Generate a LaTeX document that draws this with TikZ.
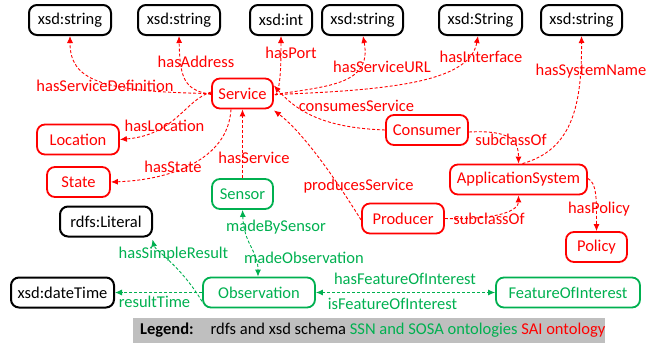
\documentclass[tikz,border=0pt]{standalone}
\usepackage{fontspec}
\setmainfont{Carlito}
\usetikzlibrary{arrows.meta}
\definecolor{saired}{RGB}{255,0,0}
\definecolor{ssngreen}{RGB}{0,176,80}
\definecolor{legendgray}{RGB}{191,191,191}
\tikzset{
  txt/.style={font=\fontsize{16.5}{19}\selectfont},
  box/.style={txt, rounded corners=8pt, minimum height=30pt, inner sep=0pt, line width=1.8pt},
  xsdbox/.style={box, draw=black, text=black, line width=2pt},
  saibox/.style={box, draw=saired, text=saired},
  ssnbox/.style={box, draw=ssngreen, text=ssngreen},
  rel/.style={dash pattern=on 3pt off 2pt, line width=0.9pt, -{Latex[length=7pt,width=6pt]}},
  birel/.style={rel, {Latex[length=7pt,width=6pt]}-{Latex[length=7pt,width=6pt]}},
  saiedge/.style={rel, draw=saired},
  ssnedge/.style={rel, draw=ssngreen},
  lbl/.style={txt, inner sep=0pt},
  saila/.style={lbl, text=saired},
  ssnla/.style={lbl, text=ssngreen},
}
\begin{document}
\begin{tikzpicture}[x=1pt, y=-1pt]
\useasboundingbox (0,0) rectangle (663,343);

% datatype boxes
\node[xsdbox, minimum width=82pt] (s1) at (70,20) {xsd:string};
\node[xsdbox, minimum width=82pt] (s2) at (179,20) {xsd:string};
\node[xsdbox, minimum width=62pt] (int) at (281,20) {xsd:int};
\node[xsdbox, minimum width=81pt] (s3) at (362.5,20) {xsd:string};
\node[xsdbox, minimum width=83pt] (sU) at (480.5,20) {xsd:String};
\node[xsdbox, minimum width=81pt] (s4) at (581.5,20) {xsd:string};
\node[xsdbox, minimum width=92pt] (lit) at (106,221.5) {rdfs:Literal};
\node[xsdbox, minimum width=103pt] (dt) at (62.5,292.5) {xsd:dateTime};

% SAI ontology classes
\node[saibox, minimum width=61pt] (srv) at (242.5,93.5) {Service};
\node[saibox, minimum width=82pt] (loc) at (78,139.5) {Location};
\node[saibox, minimum width=63pt] (st) at (78.5,182) {State};
\node[saibox, minimum width=82pt] (con) at (427,130) {Consumer};
\node[saibox, minimum width=137pt] (app) at (518.5,179.5) {ApplicationSystem};
\node[saibox, minimum width=82pt] (pro) at (403,218.5) {Producer};
\node[saibox, minimum width=61pt] (pol) at (596.5,247) {Policy};

% SSN / SOSA classes
\node[ssnbox, minimum width=61pt] (sen) at (242.5,194) {Sensor};
\node[ssnbox, minimum width=112pt] (obs) at (259,292.5) {Observation};
\node[ssnbox, minimum width=144pt] (foi) at (568,292.5) {FeatureOfInterest};

% Service properties
\draw[saiedge] (srv.west) .. controls (100,92) and (70,80) .. (s1.south);
\draw[saiedge] ([yshift=-1pt]srv.west) .. controls (185,90) and (180,80) .. (s2.south);
\draw[saiedge] ([xshift=2pt,yshift=-2pt]srv.east) .. controls (281,86) and (281,60) .. (int.south);
\draw[saiedge] ([xshift=1pt,yshift=-1pt]srv.east) .. controls (330,86) and (372,84) .. ([xshift=0.5pt]s3.south);
\draw[saiedge] ([xshift=1pt,yshift=-1pt]srv.east) .. controls (400,90) and (470,80) .. ([xshift=-2.5pt]sU.south);
\draw[saiedge] ([yshift=1.5pt]srv.west) .. controls (185,100) and (175,135) .. (loc.east);
\draw[saiedge] ([xshift=-11.5pt]srv.south) .. controls (228,160) and (170,180) .. (st.east);
\draw[saiedge] (sen.north) -- (srv.south);
\draw[saiedge] (con.west) .. controls (330,128) and (300,115) .. ([yshift=8pt]srv.east);
\draw[saiedge] ([yshift=-1.5pt]pro.west) .. controls (330,170) and (300,130) .. ([yshift=-1pt]srv.south east);

% ApplicationSystem hierarchy and properties
\draw[saiedge] ([yshift=-2pt]con.east) .. controls (510,130) and (518.5,140) .. (app.north);
\draw[saiedge] (pro.east) .. controls (500,220) and (518.5,210) .. (app.south);
\draw[saiedge] ([xshift=4pt]app.north) .. controls (570,150) and (582,110) .. (s4.south);
\draw[saiedge] ([yshift=1pt]app.east) .. controls (597,183) and (596.5,200) .. (pol.north);

% Observation properties
\draw[ssnedge, birel] (sen.south) .. controls (244,245) and (258,250) .. ([xshift=-1pt]obs.north);
\draw[ssnedge] ([yshift=-9pt]obs.west) .. controls (180,265) and (155,250) .. ([xshift=-0.5pt,yshift=-2pt]lit.south east);
\draw[ssnedge] (obs.west) -- (dt.east);
\draw[ssnedge, birel] (obs.east) -- (foi.west);

% relation labels
\node[saila] at (105,86) {hasServiceDefinition};
\node[saila] at (196,62) {hasAddress};
\node[saila] at (291,53) {hasPort};
\node[saila] at (382,67) {hasServiceURL};
\node[saila] at (481,57) {hasInterface};
\node[saila] at (591,71) {hasSystemName};
\node[saila] at (356.5,106) {consumesService};
\node[saila] at (164.5,126) {hasLocation};
\node[saila] at (173,167) {hasState};
\node[saila] at (254,158) {hasService};
\node[saila] at (511,140) {subclassOf};
\node[saila] at (358.5,186) {producesService};
\node[saila] at (489,219) {subclassOf};
\node[saila] at (599,209) {hasPolicy};
\node[ssnla] at (276,227) {madeBySensor};
\node[ssnla] at (173.5,254) {hasSimpleResult};
\node[ssnla] at (304,258) {madeObservation};
\node[ssnla] at (154.5,302) {resultTime};
\node[ssnla] at (405,279) {hasFeatureOfInterest};
\node[ssnla] at (392.5,304) {isFeatureOfInterest};

% legend
\fill[legendgray] (133,318) rectangle (605,343);
\node[lbl, anchor=west] (leg) at (140,330.5) {\textbf{Legend:}\hspace{17pt}rdfs and xsd schema \textcolor{ssngreen}{SSN and SOSA ontologies} \textcolor{saired}{SAI ontology}};
\end{tikzpicture}
\end{document}
